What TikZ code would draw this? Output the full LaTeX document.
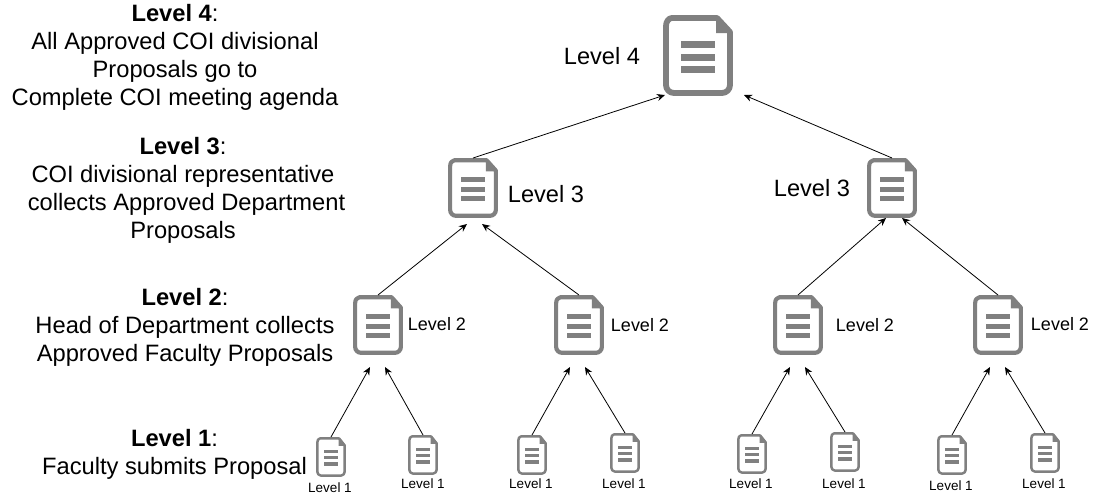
\documentclass[tikz,border=0pt]{standalone}
\usepackage{fontspec}
\setmainfont{Liberation Sans}
\definecolor{docgray}{HTML}{808080}
\definecolor{inkblack}{HTML}{000000}
\usetikzlibrary{arrows.meta}
\tikzset{
  x=1pt,y=-1pt,
  flow/.style={-{Stealth[length=8pt,width=7pt]},line width=0.8pt,color=inkblack},
  sidetext/.style={align=center,inner sep=0,font=\fontsize{23.7}{27.8}\selectfont},
  biglabel/.style={inner sep=0,font=\fontsize{23.6}{27}\selectfont},
  midlabel/.style={inner sep=0,font=\fontsize{18}{21}\selectfont},
  smalllabel/.style={inner sep=0,font=\fontsize{13.5}{16}\selectfont},
}
% name, left, top, width, height
\newcommand{\docicon}[5]{%
  \node[inner sep=0,outer sep=0,minimum width=#4pt,minimum height=#5pt,anchor=north west] (#1) at (#2,#3) {};
  \begin{scope}[shift={(#2,#3)},x=#4/70*1pt,y=-#5/81*1pt]
    \pgfmathsetmacro{\lw}{#4*0.083}
    \draw[docgray,line width=\lw pt,line join=round]
      (9,3) -- (54,3) -- (67,17) -- (67,70) arc[start angle=0,end angle=90,x radius=8,y radius=8]
      -- (11,78) arc[start angle=90,end angle=180,x radius=8,y radius=8]
      -- (3,11) arc[start angle=180,end angle=270,x radius=6,y radius=8] -- cycle;
    \fill[docgray] (53,3) -- (68,18) -- (53,18) -- cycle;
    \fill[docgray] (18,26) rectangle (52,33);
    \fill[docgray] (18,38.5) rectangle (52,45.5);
    \fill[docgray] (18,51) rectangle (52,58);
  \end{scope}
}
\begin{document}
\begin{tikzpicture}
\useasboundingbox (0,0) rectangle (1096,498);
\docicon{dfour}{663}{15}{70}{81}
\docicon{dthreea}{448}{158}{50}{60}
\docicon{dthreeb}{867}{158}{50}{60}
\docicon{dtwoa}{353}{295}{50}{60}
\docicon{dtwob}{554}{295}{50}{60}
\docicon{dtwoc}{773}{295}{50}{60}
\docicon{dtwod}{973}{295}{50}{60}
\docicon{donea}{316}{437}{30}{40}
\docicon{doneb}{408}{435}{30}{40}
\docicon{donec}{517}{435}{30}{40}
\docicon{doned}{610}{433}{30}{40}
\docicon{donee}{737}{434}{30}{40}
\docicon{donef}{830}{432}{30}{40}
\docicon{doneg}{937}{435}{30}{40}
\docicon{doneh}{1030}{433}{30}{40}

\coordinate (tfa) at (665,95);
\coordinate (tfb) at (744,95);
\coordinate (tta) at (467,224);
\coordinate (ttb) at (482,224);
\coordinate (ttc) at (886,218);
\coordinate (ttd) at (902,218);
\coordinate (toa) at (370,367);
\coordinate (tob) at (385,367);
\coordinate (toc) at (570,367);
\coordinate (tod) at (585,367);
\coordinate (toe) at (790,367);
\coordinate (tof) at (805,367);
\coordinate (tog) at (990,367);
\coordinate (toh) at (1005,367);

\draw[flow] (dthreea.north) -- (tfa);
\draw[flow] (dthreeb.north) -- (tfb);
\draw[flow] (dtwoa.north) -- (tta);
\draw[flow] (dtwob.north) -- (ttb);
\draw[flow] (dtwoc.north) -- (ttc);
\draw[flow] (dtwod.north) -- (ttd);
\draw[flow] (donea.north) -- (toa);
\draw[flow] (doneb.north) -- (tob);
\draw[flow] (donec.north) -- (toc);
\draw[flow] (doned.north) -- (tod);
\draw[flow] (donee.north) -- (toe);
\draw[flow] (donef.north) -- (tof);
\draw[flow] (doneg.north) -- (tog);
\draw[flow] (doneh.north) -- (toh);

\node[biglabel] (lfour) at (602,56) {Level 4};
\node[biglabel] (lthreea) at (546,194) {Level 3};
\node[biglabel] (lthreeb) at (812,188) {Level 3};
\node[midlabel] (ltwoa) at (437,324) {Level 2};
\node[midlabel] (ltwob) at (640,325) {Level 2};
\node[midlabel] (ltwoc) at (865,325) {Level 2};
\node[midlabel] (ltwod) at (1060,324) {Level 2};
\node[smalllabel] (lonea) at (330,488) {Level 1};
\node[smalllabel] (loneb) at (423,484) {Level 1};
\node[smalllabel] (lonec) at (531,484) {Level 1};
\node[smalllabel] (loned) at (624,484) {Level 1};
\node[smalllabel] (lonee) at (751,484) {Level 1};
\node[smalllabel] (lonef) at (844,484) {Level 1};
\node[smalllabel] (loneg) at (951,486) {Level 1};
\node[smalllabel] (loneh) at (1044,484) {Level 1};

\node[sidetext] (sfour) at (175,57.5) {\textbf{Level 4}:\\All Approved COI divisional\\Proposals go to\\Complete COI meeting agenda};
\node[sidetext] (sthree) at (183,190.5) {\textbf{Level 3}:\\COI divisional representative\\\hspace*{7pt}collects Approved Department\\Proposals};
\node[sidetext] (stwo) at (185,327.5) {\textbf{Level 2}:\\Head of Department collects\\Approved Faculty Proposals};
\node[sidetext] (sone) at (174.5,454.5) {\textbf{Level 1}:\\Faculty submits Proposal};
\end{tikzpicture}
\end{document}
